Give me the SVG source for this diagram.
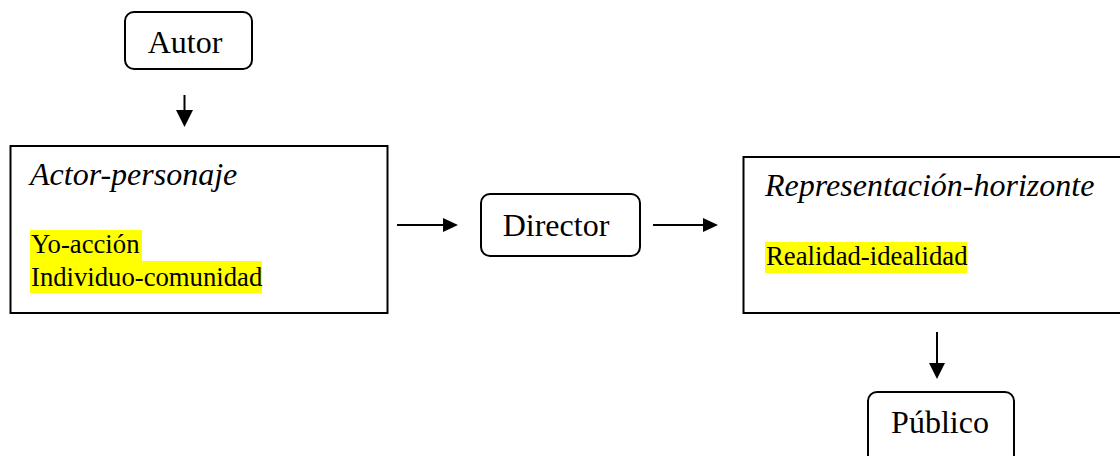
<svg xmlns="http://www.w3.org/2000/svg" width="1120" height="456" viewBox="0 0 1120 456">
  <style>
    .box { fill: #ffffff; stroke: #000000; stroke-width: 2; }
    .label { font-family: "Liberation Serif", "Times New Roman", serif; font-size: 32px; fill: #000000; }
    .title { font-family: "Liberation Serif", "Times New Roman", serif; font-size: 32px; font-style: italic; fill: #000000; }
    .item { font-family: "Liberation Serif", "Times New Roman", serif; font-size: 26.7px; fill: #000000; }
    .mark { fill: #ffff00; }
    .edge { stroke: #000000; stroke-width: 2; fill: none; }
    .head { fill: #000000; }
  </style>
  <rect width="1120" height="456" fill="#ffffff"/>

  <g id="autor">
    <rect class="box" x="125" y="12" width="127" height="57" rx="9"/>
    <text class="label" x="185" y="53" text-anchor="middle" font-size="30">Autor</text>
  </g>

  <g id="actor-personaje">
    <rect class="box" x="10.5" y="146" width="377" height="167"/>
    <text class="title" x="30" y="185">Actor-personaje</text>
    <rect class="mark" x="30" y="230" width="112" height="31"/>
    <rect class="mark" x="30" y="261" width="232" height="32"/>
    <text class="item" x="31" y="253">Yo-acción</text>
    <text class="item" x="31" y="286">Individuo-comunidad</text>
  </g>

  <g id="director">
    <rect class="box" x="481" y="194" width="159" height="62" rx="9"/>
    <text class="label" x="556" y="236" text-anchor="middle">Director</text>
  </g>

  <g id="representacion-horizonte">
    <rect class="box" x="743.5" y="157" width="390" height="156"/>
    <text class="title" x="765" y="196">Representación-horizonte</text>
    <rect class="mark" x="765" y="242" width="202" height="31"/>
    <text class="item" x="766" y="265">Realidad-idealidad</text>
  </g>

  <g id="publico">
    <rect class="box" x="868" y="392" width="146" height="80" rx="9"/>
    <text class="label" x="940" y="433" text-anchor="middle">Público</text>
  </g>

  <g id="connectors">
    <!-- Autor to Actor-personaje -->
    <line class="edge" x1="184.5" y1="95" x2="184.5" y2="111"/>
    <polygon class="head" points="176,110 193,110 184.5,127"/>
    <!-- Actor-personaje to Director -->
    <line class="edge" x1="397" y1="225" x2="444" y2="225"/>
    <polygon class="head" points="443,218 443,232 458,225"/>
    <!-- Director to Representación-horizonte -->
    <line class="edge" x1="653" y1="225" x2="704" y2="225"/>
    <polygon class="head" points="703,218 703,232 718,225"/>
    <!-- Representación-horizonte to Público -->
    <line class="edge" x1="937" y1="332" x2="937" y2="364"/>
    <polygon class="head" points="929,363 945,363 937,379"/>
  </g>
</svg>
